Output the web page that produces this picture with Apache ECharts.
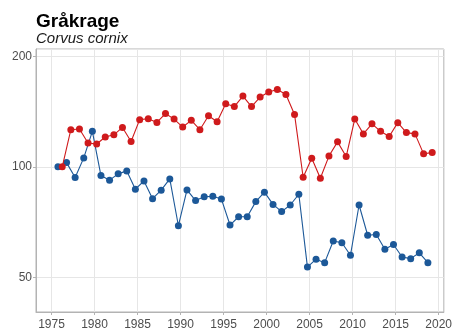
<!DOCTYPE html>
<html>
<head>
<meta charset="utf-8">
<script src="https://cdn.jsdelivr.net/npm/echarts@6/dist/echarts.min.js"></script>
<style>
html,body{margin:0;padding:0;background:#fff;}
#chart{width:455px;height:333px;}
</style>
</head>
<body>
<div id="chart"></div>
<script>
// ---- data ----
const years = [1976,1977,1978,1979,1980,1981,1982,1983,1984,1985,1986,1987,1988,1989,1990,1991,1992,1993,1994,1995,1996,1997,1998,1999,2000,2001,2002,2003,2004,2005,2006,2007,2008,2009,2010,2011,2012,2013,2014,2015,2016,2017,2018,2019];
const blueValues = [100,102.7,93.5,105.8,125,94.7,92,95.7,97.5,86.9,91.5,81.9,86.4,92.7,69.1,86.5,80.9,82.9,83.1,81.7,69.4,73.1,73.1,80.4,85.3,79,75.5,78.7,84.2,53.3,56,54.8,62.8,62.1,57.4,78.7,65.1,65.4,59.6,61.4,56.8,56.2,58.3,54.8];
const redValues = [100,126.3,126.8,116.1,115.4,120.6,122.3,128.1,117.3,134.5,135.3,132.2,139.7,135,128.4,133.9,126.3,137.9,132.8,148.7,146,156,146,155,160,162.5,157.5,139,93.7,105.6,93.1,107,117,106.7,135,123,131,125,121,132,124,123,108.5,109.4];
const yTickLabels = [50,100,200];
const xTickLabels = [1975,1980,1985,1990,1995,2000,2005,2010,2015,2020];

// ---- styling constants ----
const SCALE = 25;          // log2 axis unit: 50,100,200 -> 2,4,8
const DODGE = 0.25;        // horizontal dodge between the two series
const blueColor = '#1c5898';
const redColor = '#cf1a1c';
const font = 'Liberation Sans';

const blueData = years.map((y,i)=>[y-DODGE, blueValues[i]/SCALE]);
const redData = years.map((y,i)=>[y+DODGE, redValues[i]/SCALE]);

const chart = echarts.init(document.getElementById('chart'), null, {renderer:'canvas'});
chart.setOption({
  animation:false,
  backgroundColor:'#fff',
  title:[
    {text:'Gråkrage', left:36, top:12, padding:0, textStyle:{fontFamily:font, fontWeight:'bold', fontSize:19, color:'#000'}},
    {text:'Corvus cornix', left:36, top:31, padding:0, textStyle:{fontFamily:font, fontStyle:'italic', fontWeight:'normal', fontSize:15, color:'#1a1a1a'}}
  ],
  grid:{left:36, right:11, top:49, bottom:21, show:true, borderColor:'#b3b3b3', borderWidth:1, containLabel:false},
  xAxis:{
    type:'value', min:1973.2, max:2020.6, splitNumber:10,
    axisLine:{show:true, onZero:false, lineStyle:{color:'#b3b3b3', width:1}},
    axisTick:{show:true, length:3, lineStyle:{color:'#b3b3b3'}},
    axisLabel:{fontFamily:font, fontSize:12, color:'#4d4d4d', margin:7, showMinLabel:false, showMaxLabel:false,
      formatter:v=> xTickLabels.includes(Math.round(v)) && Math.abs(v-Math.round(v))<1e-6 ? String(Math.round(v)) : ''},
    splitLine:{show:true, lineStyle:{color:'#e6e6e6', width:1}}
  },
  yAxis:{
    type:'log', logBase:2, min:40.2/SCALE, max:209.6/SCALE,
    axisLine:{show:true, lineStyle:{color:'#b3b3b3', width:1}},
    axisTick:{show:true, length:3, lineStyle:{color:'#b3b3b3'}},
    axisLabel:{fontFamily:font, fontSize:12, color:'#4d4d4d', margin:4, showMinLabel:false, showMaxLabel:false,
      formatter:v=>{const t=Math.round(v*SCALE); return yTickLabels.includes(t)?String(t):'';}},
    splitLine:{show:true, lineStyle:{color:'#e6e6e6', width:1}}
  },
  series:[
    {type:'line', data:blueData, symbol:'circle', symbolSize:7, itemStyle:{color:blueColor}, lineStyle:{color:blueColor, width:1.1}, z:2},
    {type:'line', data:redData, symbol:'circle', symbolSize:7, itemStyle:{color:redColor}, lineStyle:{color:redColor, width:1.1}, z:3}
  ]
});
</script>
</body>
</html>
